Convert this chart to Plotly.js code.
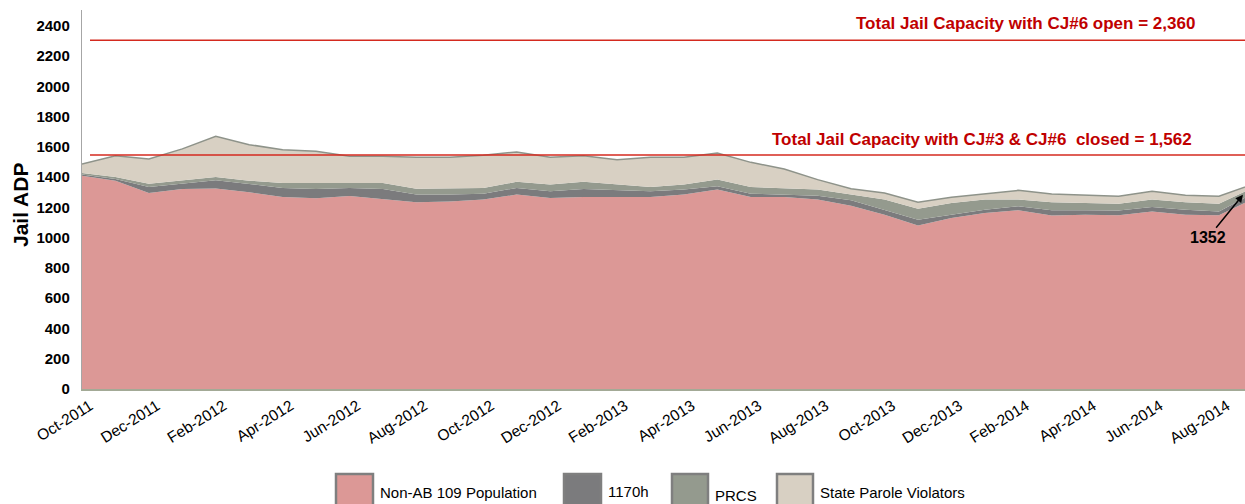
<!DOCTYPE html>
<html>
<head>
<meta charset="utf-8">
<script src="https://cdn.plot.ly/plotly-3.0.1.min.js"></script>
<style>html,body{margin:0;padding:0;background:#fff;}#chart{width:1245px;height:504px;}</style>
</head>
<body>
<div id="chart"></div>
<script>
// ---- Data ----
const months = ["Oct-2011","Nov-2011","Dec-2011","Jan-2012","Feb-2012","Mar-2012","Apr-2012","May-2012","Jun-2012","Jul-2012","Aug-2012","Sep-2012",
  "Oct-2012","Nov-2012","Dec-2012","Jan-2013","Feb-2013","Mar-2013","Apr-2013","May-2013","Jun-2013","Jul-2013","Aug-2013","Sep-2013",
  "Oct-2013","Nov-2013","Dec-2013","Jan-2014","Feb-2014","Mar-2014","Apr-2014","May-2014","Jun-2014","Jul-2014","Aug-2014","Sep-2014"];
const tickLabels = ["Oct-2011","Dec-2011","Feb-2012","Apr-2012","Jun-2012","Aug-2012","Oct-2012","Dec-2012","Feb-2013","Apr-2013",
  "Jun-2013","Aug-2013","Oct-2013","Dec-2013","Feb-2014","Apr-2014","Jun-2014","Aug-2014"];
const seriesNames = ["Non-AB 109 Population","1170h","PRCS","State Parole Violators"];
const nonAB109 = [1410,1377,1296,1322,1326,1300,1269,1260,1276,1256,1234,1240,1252,1285,1263,1269,1269,1269,1285,1318,1269,1269,1252,1212,1152,1080,1130,1163,1182,1146,1152,1148,1174,1152,1148,1255];
const h1170 = [7,11,39,35,53,55,60,62,53,66,51,45,39,44,44,53,44,38,33,22,22,16,26,35,33,39,22,22,26,36,30,32,29,33,26,35];
const prcs = [11,14,22,22,23,22,33,40,33,40,39,39,38,40,44,47,38,28,33,44,44,44,40,38,67,73,78,67,44,52,48,45,49,49,51,38];
const paroleViolators = [59,140,164,208,268,238,220,209,176,176,207,207,216,198,180,173,165,196,180,176,163,125,66,39,44,42,37,37,61,55,50,49,55,46,49,24];
const capacityLabels = ["Total Jail Capacity with CJ#6 open = 2,360","Total Jail Capacity with CJ#3 &amp; CJ#6\u00a0 closed = 1,562"];
const capacityLineLevels = [2305, 1547];
const latestTotalLabel = "1352";

// ---- Styles ----
const fills = ["#DC9896","#7B7B7D","#949A8E","#D8D0C3"];
const seriesData = [nonAB109, h1170, prcs, paroleViolators];
const FONT = "Liberation Sans, Arial, sans-serif";

const traces = seriesData.map((vals, k) => ({
  type: "scatter", mode: "lines", x: months, y: vals, name: seriesNames[k],
  stackgroup: "one", fillcolor: fills[k],
  line: k === 3 ? {color: "#8E938A", width: 1.5} : {color: fills[k], width: 0},
  hoverinfo: "x+y+name", showlegend: false
}));

const L = 82, W = 1245 - 82, B = 389, H = 379;
function px(x) { return (x - L) / W; }
function py(y) { return (B - y) / H; }

const shapes = capacityLineLevels.map(v => ({
  type: "line", xref: "paper", yref: "y", x0: px(90), x1: 1, y0: v, y1: v,
  line: {color: "#D42A1F", width: 1.6}
}));

const annotations = [
  {xref: "paper", yref: "paper", x: px(20), y: py(205), text: "<b>Jail ADP</b>", textangle: -90,
   showarrow: false, font: {family: FONT, size: 21, color: "#000"}, xanchor: "center", yanchor: "middle"},
  {xref: "paper", yref: "paper", x: px(1025), y: py(24), text: "<b>" + capacityLabels[0] + "</b>", showarrow: false,
   font: {family: FONT, size: 17, color: "#C00000"}, xanchor: "center", yanchor: "middle"},
  {xref: "paper", yref: "paper", x: px(1194), y: py(139), text: "<b>" + capacityLabels[1] + "</b>", showarrow: false,
   font: {family: FONT, size: 17, color: "#C00000"}, xanchor: "right", yanchor: "middle"},
  {xref: "x", yref: "y", x: 34.72, y: 1284, text: "<b>" + latestTotalLabel + "</b>", showarrow: true,
   ax: -35, ay: 43, arrowhead: 2, arrowsize: 1, arrowwidth: 1.5, arrowcolor: "#000",
   font: {family: FONT, size: 16, color: "#000"}}
];

// custom legend (boxes + names)
const legendBoxes = [[336,373],[564,601],[672,708],[777,813]];
const legendTextY = [493,491,495,492];
legendBoxes.forEach((b, k) => {
  shapes.push({type: "rect", xref: "paper", yref: "paper", x0: px(b[0]), x1: px(b[1]),
    y0: py(474), y1: py(510),
    fillcolor: fills[k], line: {color: "#7F7F7F", width: 2.5}});
  annotations.push({xref: "paper", yref: "paper", x: px(b[1] + 5), y: py(legendTextY[k]),
    text: seriesNames[k], showarrow: false, xanchor: "left", yanchor: "middle",
    font: {family: FONT, size: 15, color: "#000"}});
});

const layout = {
  width: 1245, height: 504,
  margin: {l: 82, r: 0, t: 10, b: 115, pad: 0},
  paper_bgcolor: "#fff", plot_bgcolor: "#fff",
  showlegend: false,
  xaxis: {type: "category", range: [0, 34.78], tickvals: tickLabels, ticktext: tickLabels,
    tickangle: -32, tickfont: {family: FONT, size: 15.5, color: "#000"}, ticklabelshift: 8,
    showgrid: false, zeroline: false, showline: true, linecolor: "#A3AA96", linewidth: 2, ticks: ""},
  yaxis: {range: [0, 2505], dtick: 200, tick0: 0, showgrid: false, zeroline: false,
    showline: true, linecolor: "#A6A6A6", linewidth: 1.2, ticks: "", ticklabelstandoff: 8,
    tickfont: {family: FONT, size: 15, color: "#000", weight: "bold"}},
  shapes: shapes,
  annotations: annotations
};

Plotly.newPlot("chart", traces, layout, {displayModeBar: false, staticPlot: true});
</script>
</body>
</html>
